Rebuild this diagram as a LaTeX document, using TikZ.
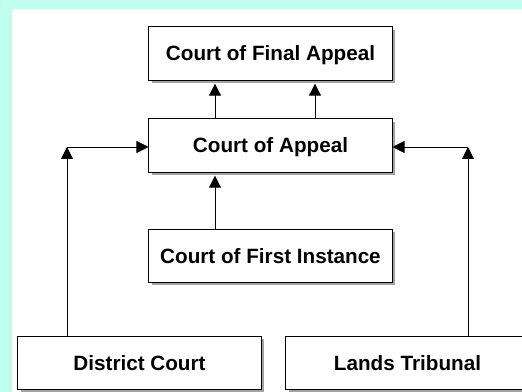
\documentclass[tikz,border=0pt]{standalone}
\usepackage{fontspec}
\setmainfont{Liberation Sans}
\usepackage{tikz}
\usetikzlibrary{arrows.meta,shadows}
\definecolor{bgaqua}{RGB}{192,255,238}
\tikzset{
	courtbox/.style={draw, line width=0.7pt, fill=white, minimum width=6.075cm, minimum height=1.325cm,
		font=\fontsize{14.7}{17}\selectfont\bfseries, text depth=0pt,
		drop shadow={shadow xshift=0.07cm, shadow yshift=-0.07cm, fill=black!45, opacity=0.8}},
	arr/.style={line width=0.7pt, -{Triangle[length=0.3cm,width=0.3cm]}},
	upin/.style={arr, shorten >=0.08cm}
}
\begin{document}
\begin{tikzpicture}[x=0.025cm,y=-0.025cm]
		\useasboundingbox (0,0) rectangle (522,392);
		\clip (0,0) rectangle (522,392);
		\fill[bgaqua] (0,0) rectangle (522,392);
		\fill[white] (12,9) rectangle (522,392);

		\node[courtbox] (cfa) at (270.5,53.5) {Court of Final Appeal};
		\node[courtbox] (coa) at (270.5,145.5) {Court of Appeal};
		\node[courtbox] (cfi) at (270.5,256) {Court of First Instance};
		\node[courtbox] (dc) at (139.5,363) {District Court};
		\node[courtbox] (lt) at (407.5,363) {Lands Tribunal};

		\coordinate (xl) at (215,0);
		\coordinate (xr) at (315,0);
		\coordinate (lc) at (67,147);
		\coordinate (rc) at (468,147);

		\draw[upin] (coa.north -| xl) -- (cfa.south -| xl);
		\draw[upin] (coa.north -| xr) -- (cfa.south -| xr);
		\draw[upin] (cfi.north -| xl) -- (coa.south -| xl);

		\draw[arr] (dc.north -| lc) -- (lc);
		\draw[arr] (lc) -- (coa.west |- lc);
		\draw[arr] (lt.north -| rc) -- (rc);
		\draw[arr] (rc) -- (coa.east |- rc);
	\end{tikzpicture}
\end{document}
